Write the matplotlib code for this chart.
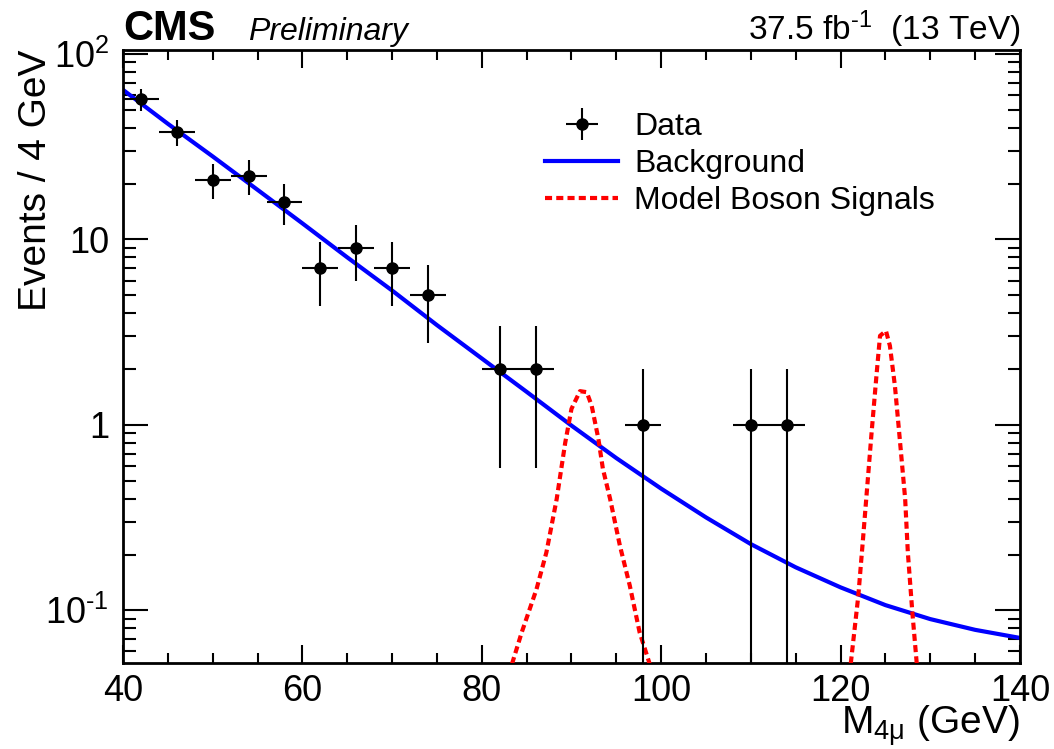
#!/usr/bin/env python3
# -*- coding: utf-8 -*-
"""
Spectre M(4mu) : données, fond et signaux modèles (style CMS/ROOT).
"""

import numpy as np
import matplotlib
matplotlib.use("Agg")
import matplotlib.pyplot as plt
from matplotlib.ticker import FixedLocator, MultipleLocator, LogLocator, NullFormatter

plt.rcParams['font.family'] = ['Liberation Sans', 'DejaVu Sans']
plt.rcParams['mathtext.fontset'] = 'custom'
plt.rcParams['mathtext.rm'] = 'Liberation Sans'
plt.rcParams['mathtext.it'] = 'Liberation Sans:italic'
plt.rcParams['mathtext.bf'] = 'Liberation Sans:bold'

# Données (centres des bins de 4 GeV, nombre d'événements)
data_x = [42, 46, 50, 54, 58, 62, 66, 70, 74, 82, 86, 98, 110, 114]
data_y = [57, 38, 21, 22, 16, 7, 9, 7, 5, 2, 2, 1, 1, 1]
bin_half_width = 2.0

# Fond
bkg_x = [40, 45, 50, 55, 60, 65, 70, 75, 80, 85, 90, 95, 100, 105, 110,
         115, 120, 125, 130, 135, 140]
bkg_y = [64, 42, 28, 18.5, 12.2, 8.0, 5.3, 3.45, 2.28, 1.507, 0.991, 0.662,
         0.453, 0.317, 0.2275, 0.1706, 0.133, 0.1067, 0.0897, 0.0785, 0.071]

# Signal Z (~91 GeV)
z_x = [83.0, 84.45, 86.1, 87.2, 88.35, 89.3, 90.0, 90.95, 91.7, 92.25, 93.0,
       93.5, 94.3, 95.4, 96.5, 97.6, 99.1]
z_y = [0.045, 0.076, 0.130, 0.205, 0.398, 0.80, 1.22, 1.52, 1.50, 1.27, 0.84,
       0.58, 0.40, 0.223, 0.136, 0.076, 0.045]

# Signal H (~125 GeV)
h_x = [121.0, 121.98, 122.5, 122.98, 123.46, 124.0, 124.4, 125.06, 125.5,
       126.06, 126.6, 127.2, 127.5, 128.0, 128.6]
h_y = [0.045, 0.120, 0.242, 0.469, 0.91, 1.84, 3.02, 3.21, 2.67, 1.62, 0.84,
       0.40, 0.205, 0.098, 0.045]

HY = '\u2010'  # trait d'union (style ROOT pour les exposants)

fig = plt.figure(figsize=(10.54, 7.49), dpi=100)
ax = fig.add_axes([0.1167, 0.1148, 0.851, 0.8185])

ax.plot(bkg_x, bkg_y, color='blue', lw=3.0, zorder=2, label='Background')
ax.plot(z_x, z_y, color='red', lw=3.0, ls=(0, (1.7, 1.0)), zorder=3,
        label='Model Boson Signals')
ax.plot(h_x, h_y, color='red', lw=3.0, ls=(0, (1.7, 1.0)), zorder=3)

# Erreurs poissoniennes sqrt(N)
y = np.array(data_y, dtype=float)
dy = np.sqrt(y)
lo = np.minimum(dy, y - 1e-4)
ax.errorbar(data_x, data_y, xerr=bin_half_width, yerr=[lo, dy], fmt='o',
            color='black', ms=8, elinewidth=1.5, capsize=0, zorder=4,
            label='Data')

ax.set_yscale('log')
ax.set_xlim(40, 140)
ax.set_ylim(0.052, 105)

ax.xaxis.set_major_locator(MultipleLocator(20))
ax.xaxis.set_minor_locator(MultipleLocator(5))
ax.yaxis.set_major_locator(FixedLocator([0.1, 1, 10, 100]))
ax.set_yticklabels(['10$^{\\mathregular{' + HY + '1}}$', '1', '10',
                    '10$^{\\mathregular{2}}$'])
ax.yaxis.set_minor_locator(LogLocator(base=10, subs=np.arange(2, 10)))
ax.yaxis.set_minor_formatter(NullFormatter())

ax.tick_params(which='both', direction='in', top=True, right=True,
               labelsize=26, width=1.5)
ax.tick_params(axis='x', which='major', length=13, pad=8)
ax.tick_params(axis='x', which='minor', length=7)
ax.tick_params(axis='y', which='major', length=18, pad=10)
ax.tick_params(axis='y', which='minor', length=9)
for s in ax.spines.values():
    s.set_linewidth(2.0)

ax.set_ylabel('Events / 4 GeV', fontsize=28, loc='top')
ax.yaxis.set_label_coords(-0.077, 1.0)
ax.set_xlabel('M$_{\\mathregular{4\\mu}}$ (GeV)', fontsize=28, loc='right',
              labelpad=-4)

fig.text(0.1167, 0.947, 'CMS', fontsize=30, fontweight='bold',
         ha='left', va='baseline')
fig.text(0.235, 0.947, 'Preliminary', fontsize=23, style='italic',
         ha='left', va='baseline')
fig.text(0.9677, 0.947, '37.5 fb$^{\\mathregular{' + HY + '1}}$  (13 TeV)',
         fontsize=24, ha='right', va='baseline')

h, l = ax.get_legend_handles_labels()
order = [l.index('Data'), l.index('Background'), l.index('Model Boson Signals')]
ax.legend([h[i] for i in order], [l[i] for i in order], frameon=False,
          fontsize=23, loc='upper left', bbox_to_anchor=(0.517, 0.85),
          bbox_transform=fig.transFigure, handlelength=2.3,
          handletextpad=0.5, labelspacing=0.22, borderaxespad=0,
          borderpad=0)

fig.savefig('out.png', dpi=100)
